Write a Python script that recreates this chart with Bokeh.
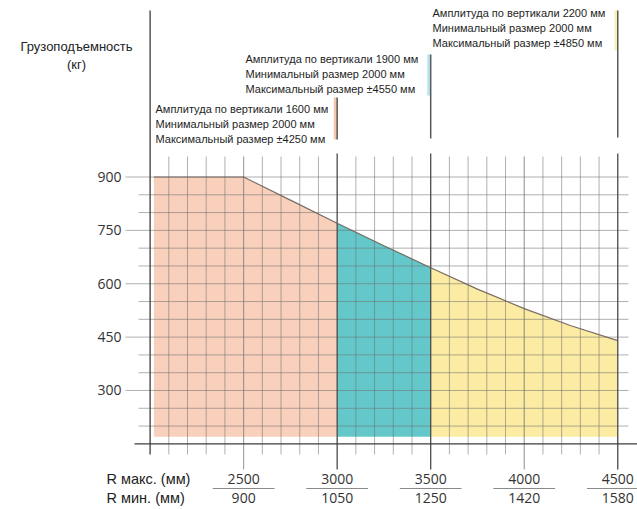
from bokeh.plotting import figure
from bokeh.models import Range1d
from bokeh.embed import file_html
from bokeh.resources import INLINE
from bokeh.core.properties import value

# ---------------- data ----------------
load_x = [2020, 2500, 2750, 3000, 3250, 3500, 3750, 4000, 4250, 4500]   # R max (mm)
load_kg = [900, 900, 835, 770, 707, 645, 585, 530, 482, 440]           # capacity (kg)
zone_limits = [2020, 3000, 3500, 4500]             # zone boundaries (mm)
base_kg = 170
r_max = [2500, 3000, 3500, 4000, 4500]
r_min = [900, 1050, 1250, 1420, 1580]
y_ticks = [300, 450, 600, 750, 900]
amplitudes = [1600, 1900, 2200]
min_sizes = [2000, 2000, 2000]
max_sizes = [4250, 4550, 4850]
marker_x = [3000, 3500, 4500]
zone_colors = ["#f9d0bc", "#64c8ca", "#fbeba3"]
strip_colors = ["#f3b89c", "#a9d8f2", "#f6ee9c"]

# ---------------- layout helpers ----------------
W, H = 637, 509
X0, X1 = 1200.3, 4605.5
Y0, Y1 = -34.5, 1396.1

def dx(px):
    return X0 + px * (X1 - X0) / W

def dy(py):
    return Y1 - py * (Y1 - Y0) / H

p = figure(width=W, height=H, x_range=Range1d(X0, X1), y_range=Range1d(Y0, Y1),
           output_backend="svg", toolbar_location=None, min_border=0)
p.axis.visible = False
p.grid.visible = False
p.outline_line_color = None
p.background_fill_color = "white"
p.border_fill_color = "white"

SANS = value("Liberation Sans")
NUM = value("Open Sans")

# ---------------- zone fills ----------------
for i in range(3):
    lo, hi = zone_limits[i], zone_limits[i + 1]
    xs = [x for x in load_x if lo <= x <= hi]
    ys = [k for x, k in zip(load_x, load_kg) if lo <= x <= hi]
    p.varea(x=xs, y1=[base_kg] * len(xs), y2=ys, fill_color=zone_colors[i], fill_alpha=1.0)

# ---------------- grid ----------------
hx0, hx1, hy0, hy1 = [], [], [], []
for k in range(200, 901, 50):
    hx0.append(dx(125) if k in y_ticks else dx(138))
    hx1.append(dx(628))
    hy0.append(k)
    hy1.append(k)
p.segment(x0=hx0, y0=hy0, x1=hx1, y1=hy1, line_color="#6f6f6f", line_alpha=0.55, line_width=1)

vx, vy0, vy1 = [], [], []
for x in range(2100, 4501, 100):
    if x in marker_x:
        continue
    vx.append(x)
    vy0.append(dy(156))
    vy1.append(dy(469) if x % 500 == 0 else dy(454))
p.segment(x0=vx, y0=vy0, x1=vx, y1=vy1, line_color="#6f6f6f", line_alpha=0.55, line_width=1)
p.segment(x0=[2500, 4000], y0=[dy(156)] * 2, x1=[2500, 4000], y1=[dy(469)] * 2,
          line_color="#6f6f6f", line_alpha=0.35, line_width=1)

# dark zone lines
p.segment(x0=marker_x, y0=[dy(153)] * 3, x1=marker_x, y1=[dy(469)] * 3,
          line_color="#4a4a4a", line_width=1.3)

# axes lines
p.segment(x0=[2000], y0=[dy(10)], x1=[2000], y1=[dy(454)], line_color="#3c3c3c", line_width=1.3)
p.segment(x0=[dx(134)], y0=[150], x1=[dx(637)], y1=[150], line_color="#3c3c3c", line_width=1.3)

# capacity curve
p.line(x=load_x, y=load_kg, line_color="#6b5e55", line_width=1.2, line_alpha=0.9)

# ---------------- annotations ----------------
bar_top = [dy(97), dy(54), dy(10)]
bar_bot = [dy(139), dy(138), dy(137)]
strip_bot = [dy(139), dy(95), dy(50)]
text_left = [dx(155), dx(245), dx(432)]
text_rows = [[dy(108), dy(123), dy(138)], [dy(58), dy(73), dy(88)], [dy(12), dy(27), dy(42)]]
for i in range(3):
    p.quad(left=[marker_x[i] - 18], right=[marker_x[i]], bottom=[strip_bot[i]], top=[bar_top[i]],
           fill_color=strip_colors[i], fill_alpha=0.8, line_color=None)
    p.segment(x0=[marker_x[i]], y0=[bar_top[i]], x1=[marker_x[i]], y1=[bar_bot[i]],
              line_color="#5a5a5a", line_width=1.5)
    lines = ["Амплитуда по вертикали %d мм" % amplitudes[i],
             "Минимальный размер %d мм" % min_sizes[i],
             "Максимальный размер ±%d мм" % max_sizes[i]]
    p.text(x=[text_left[i]] * 3, y=text_rows[i], text=lines, text_font=SANS,
           text_font_size="11px", text_color="#1e1e1e", text_align="left", text_baseline="middle")

# ---------------- y tick labels ----------------
p.text(x=[dx(121)] * len(y_ticks), y=y_ticks, text=[str(v) for v in y_ticks], text_font=NUM,
       text_font_size="14px", text_color="#333333", text_align="right", text_baseline="middle")

# y title
p.text(x=[dx(76)] * 2, y=[dy(46), dy(64)], text=["Грузоподъемность", "(кг)"], text_font=SANS,
       text_font_size="13px", text_color="#222222", text_align="center", text_baseline="middle")

# ---------------- bottom labels ----------------
ROW1, ROW2, SEP = dy(478), dy(497), dy(488)
p.text(x=[dx(106)] * 2, y=[ROW1, ROW2], text=["R макс. (мм)", "R мин. (мм)"], text_font=SANS,
       text_font_size="14.5px", text_color="#222222", text_align="left", text_baseline="middle")
p.text(x=r_max, y=[ROW1] * len(r_max), text=[str(v) for v in r_max], text_font=NUM,
       text_font_size="14px", text_color="#333333", text_align="center", text_baseline="middle")
p.text(x=r_max, y=[ROW2] * len(r_min), text=[str(v) for v in r_min], text_font=NUM,
       text_font_size="14px", text_color="#333333", text_align="center", text_baseline="middle")
p.segment(x0=[x - 165 for x in r_max], y0=[SEP] * len(r_max),
          x1=[x + 165 for x in r_max], y1=[SEP] * len(r_max),
          line_color="#8a8a8a", line_width=1)

open("out.html", "w").write(file_html(p, INLINE))
